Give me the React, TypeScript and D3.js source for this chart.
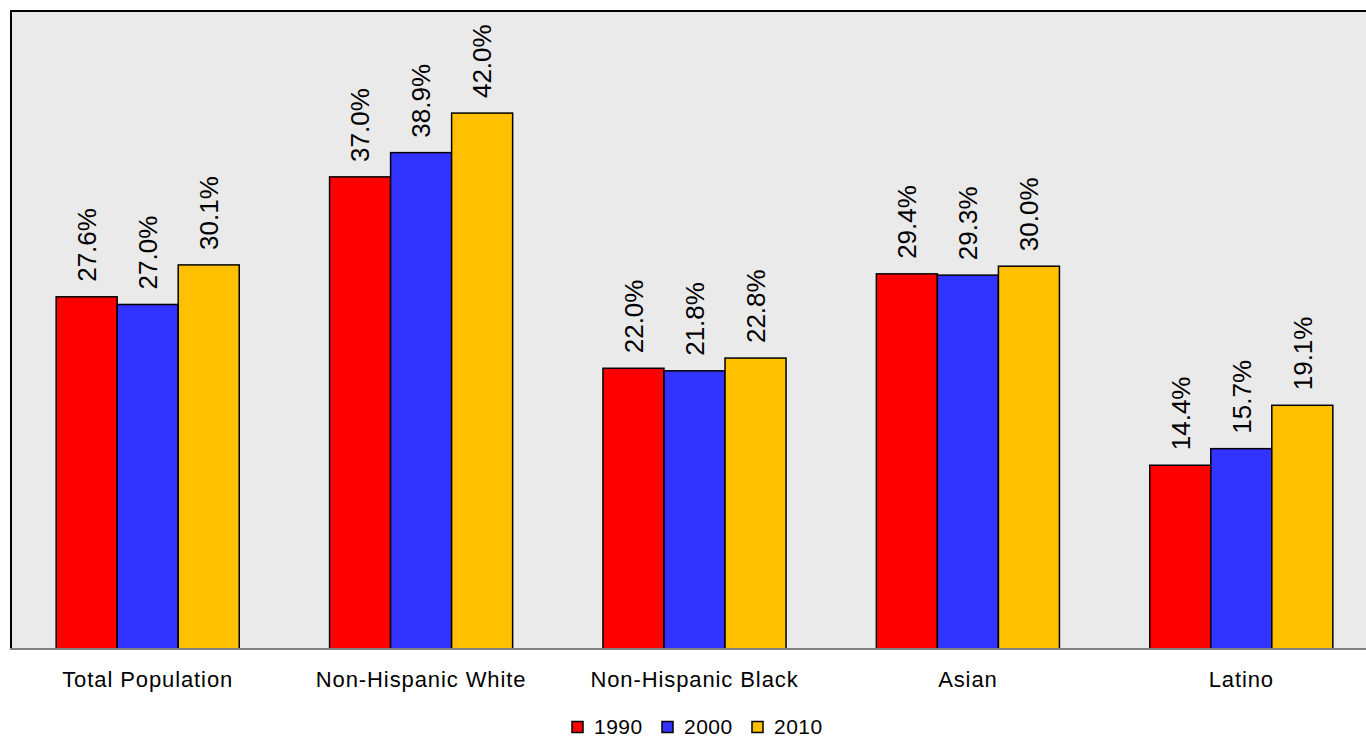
import React from "react";
import * as d3 from "d3";

const categories = ["Total Population", "Non-Hispanic White", "Non-Hispanic Black", "Asian", "Latino"];
const years = ["1990", "2000", "2010"];
const values1990 = [27.6, 37.0, 22.0, 29.4, 14.4];
const values2000 = [27.0, 38.9, 21.8, 29.3, 15.7];
const values2010 = [30.1, 42.0, 22.8, 30.0, 19.1];
const seriesValues = [values1990, values2000, values2010];
const colors = ["#FF0000", "#3333FF", "#FFC000"];

const W = 1366;
const H = 739;
const plotLeft = 11;
const plotTop = 11;
const plotRight = 1378;
const baseY = 649;
const FONT = "'Liberation Sans', Arial, Helvetica, sans-serif";

export default function App() {
  const x0 = d3.scaleBand<string>().domain(categories).range([plotLeft, plotRight]).padding(0);
  const x1 = d3
    .scaleBand<string>()
    .domain(years)
    .range([0, x0.bandwidth()])
    .paddingInner(0)
    .paddingOuter(0.74);
  const y = d3.scaleLinear().domain([0, 50]).range([baseY, plotTop]);
  const labelFs = 26;

  return (
    <svg
      width={W}
      height={H}
      style={{ position: "absolute", left: 0, top: 0, background: "#fff" }}
      fontFamily={FONT}
    >
      <rect x={plotLeft} y={plotTop} width={plotRight - plotLeft} height={baseY - plotTop} fill="#EAEAEA" />
      {categories.map((c, ci) =>
        years.map((yr, si) => {
          const v = seriesValues[si][ci];
          const bx = (x0(c) as number) + (x1(yr) as number);
          const bw = x1.bandwidth();
          const top = y(v);
          const cx = bx + bw / 2;
          return (
            <g key={c + yr}>
              <rect x={bx} y={top} width={bw} height={baseY - top} fill={colors[si]} stroke="#000" strokeWidth={1.5} />
              <text
                transform={`translate(${cx + labelFs * 0.36},${top - 15}) rotate(-90)`}
                fontSize={labelFs}
                fill="#000"
                textAnchor="start"
              >
                {v.toFixed(1)}%
              </text>
            </g>
          );
        })
      )}
      <line x1={plotLeft} x2={plotRight} y1={plotTop} y2={plotTop} stroke="#000" strokeWidth={2} />
      <line x1={plotLeft} x2={plotLeft} y1={plotTop - 1} y2={baseY} stroke="#000" strokeWidth={2} />
      <line x1={plotLeft - 1} x2={plotRight} y1={baseY} y2={baseY} stroke="#808080" strokeWidth={2} />
      {categories.map((c) => (
        <text
          key={c}
          x={(x0(c) as number) + x0.bandwidth() / 2}
          y={687}
          fontSize={22}
          letterSpacing={0.9}
          textAnchor="middle"
          fill="#000"
        >
          {c}
        </text>
      ))}
      {years.map((yr, i) => {
        const lx = 572 + i * 90;
        return (
          <g key={yr}>
            <rect x={lx} y={721.5} width={11} height={11} fill={colors[i]} stroke="#000" strokeWidth={1.5} />
            <text x={lx + 22} y={734} fontSize={21} letterSpacing={0.5} fill="#000">
              {yr}
            </text>
          </g>
        );
      })}
    </svg>
  );
}
